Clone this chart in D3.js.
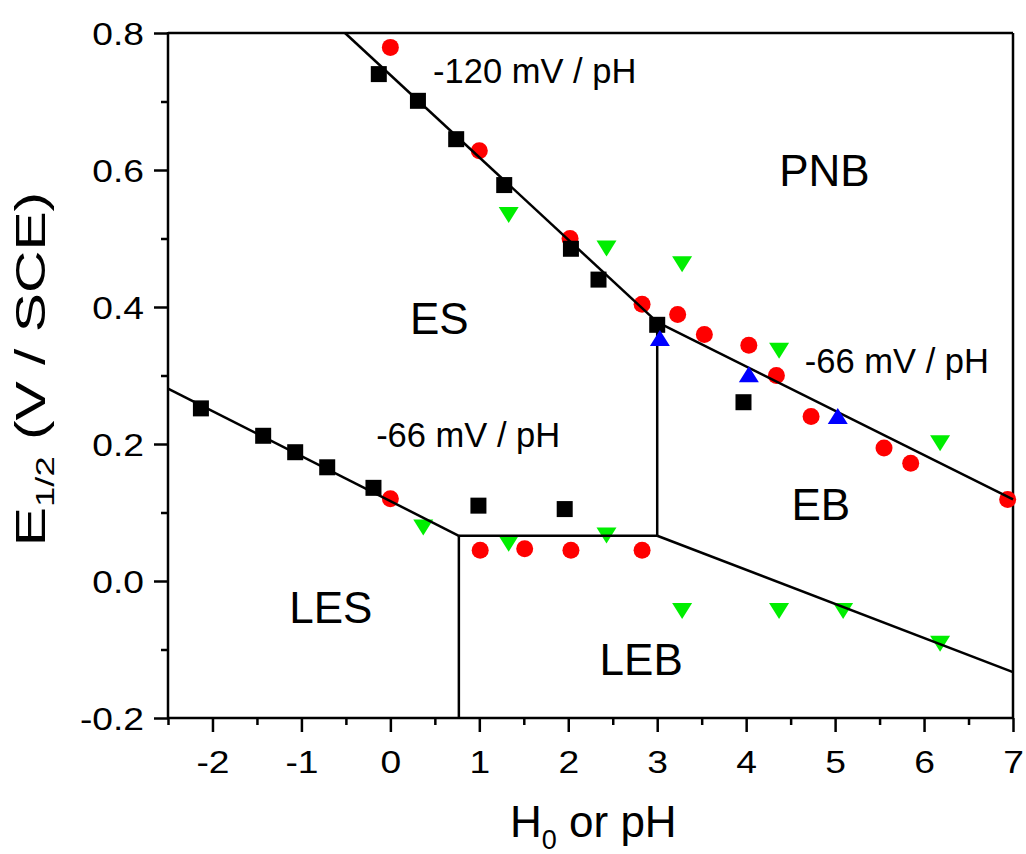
<!DOCTYPE html>
<html>
<head>
<meta charset="utf-8">
<script src="https://cdn.jsdelivr.net/npm/d3@7"></script>
<style>
  html, body { margin: 0; padding: 0; background: #fff; }
  svg { display: block; font-family: "Liberation Sans", Arial, sans-serif; }
</style>
</head>
<body>
<svg id="chart" width="1026" height="854"></svg>
<script>
// ---- data ----
const blackSquares = [
  [-0.13, 0.740], [0.31, 0.701], [0.74, 0.645], [1.28, 0.578], [2.03, 0.485],
  [2.34, 0.440], [3.00, 0.374], [3.97, 0.261],
  [-2.13, 0.252], [-1.43, 0.212], [-1.07, 0.188], [-0.71, 0.166], [-0.19, 0.136],
  [0.99, 0.110], [1.96, 0.105]
];
const redCircles = [
  [0.0, 0.779], [1.0, 0.628], [2.02, 0.500], [2.83, 0.404], [3.23, 0.389],
  [3.53, 0.360], [4.03, 0.344], [4.34, 0.300], [4.73, 0.240], [5.55, 0.194],
  [5.85, 0.172], [6.94, 0.119],
  [0.0, 0.120], [1.01, 0.045], [1.51, 0.047], [2.03, 0.045], [2.83, 0.045]
];
const greenDown = [
  [1.33, 0.535], [2.43, 0.486], [3.28, 0.463], [4.37, 0.337], [6.18, 0.202],
  [0.37, 0.079], [1.33, 0.055], [2.43, 0.067],
  [3.28, -0.043], [4.37, -0.043], [5.09, -0.043], [6.18, -0.091]
];
const blueUp = [
  [3.03, 0.354], [4.03, 0.301], [5.03, 0.240]
];
// boundary lines of the diagram
const boundaryLines = [
  [[-0.51, 0.8], [3.0, 0.378]],
  [[3.0, 0.378], [7.0, 0.119]],
  [[-2.5, 0.281], [0.77, 0.066]],
  [[0.77, 0.066], [3.0, 0.066]],
  [[3.0, 0.066], [7.0, -0.133]],
  [[0.77, 0.066], [0.77, -0.2]],
  [[3.0, 0.066], [3.0, 0.378]]
];
const xTicks = [-2, -1, 0, 1, 2, 3, 4, 5, 6, 7];
const xMinorTicks = [-2.5, -1.5, -0.5, 0.5, 1.5, 2.5, 3.5, 4.5, 5.5, 6.5];
const yTicks = [-0.2, 0.0, 0.2, 0.4, 0.6, 0.8];
const yMinorTicks = [-0.1, 0.1, 0.3, 0.5, 0.7];
const regionLabels = [
  {text: "PNB", x: 4.88, y: 0.576},
  {text: "ES", x: 0.55, y: 0.361},
  {text: "EB", x: 4.84, y: 0.089},
  {text: "LES", x: -0.67, y: -0.062},
  {text: "LEB", x: 2.82, y: -0.137}
];
const slopeLabels = [
  {text: "-120 mV / pH", x: 0.48, y: 0.727},
  {text: "-66 mV / pH", x: -0.16, y: 0.196},
  {text: "-66 mV / pH", x: 4.66, y: 0.303}
];

// ---- layout ----
const svg = d3.select("#chart");
const X0 = 168, X1 = 1013, Y0 = 718, Y1 = 33;
const x = d3.scaleLinear().domain([-2.5, 7]).range([X0, X1]);
const y = d3.scaleLinear().domain([-0.2, 0.8]).range([Y0, Y1]);
const fmtY = v => (Math.abs(v) < 1e-9 ? "0.0" : d3.format(".1f")(v).replace("\u2212", "-"));
const fmtX = v => String(v);
const STRETCH = 1.2;
const SW = 2.5;

// frame (top & right)
svg.append("line").attr("x1", X0).attr("x2", X1).attr("y1", Y1).attr("y2", Y1)
  .attr("stroke", "#000").attr("stroke-width", SW);
svg.append("line").attr("x1", X1).attr("x2", X1).attr("y1", Y1).attr("y2", Y0)
  .attr("stroke", "#000").attr("stroke-width", SW);

// bottom axis: minor then major
const gxMinor = svg.append("g").attr("transform", `translate(0,${Y0})`)
  .call(d3.axisBottom(x).tickValues(xMinorTicks).tickSize(7).tickFormat(""));
const gx = svg.append("g").attr("transform", `translate(0,${Y0})`)
  .call(d3.axisBottom(x).tickValues(xTicks).tickSize(14).tickPadding(20).tickFormat(fmtX));
// left axis
const gyMinor = svg.append("g").attr("transform", `translate(${X0},0)`)
  .call(d3.axisLeft(y).tickValues(yMinorTicks).tickSize(7).tickFormat(""));
const gy = svg.append("g").attr("transform", `translate(${X0},0)`)
  .call(d3.axisLeft(y).tickValues(yTicks).tickSize(14).tickPadding(10).tickFormat(fmtY));

[gxMinor, gx, gyMinor, gy].forEach(g => {
  g.select(".domain").remove();
  g.selectAll(".tick line").attr("stroke", "#000").attr("stroke-width", SW);
});
svg.append("line").attr("x1", X0 - 1).attr("x2", X1 + 1).attr("y1", Y0).attr("y2", Y0)
  .attr("stroke", "#000").attr("stroke-width", SW);
svg.append("line").attr("x1", X0).attr("x2", X0).attr("y1", Y1 - 1).attr("y2", Y0 + 1)
  .attr("stroke", "#000").attr("stroke-width", SW);

gx.selectAll(".tick text")
  .attr("font-size", 31).attr("fill", "#000").attr("font-family", "Liberation Sans, Arial, sans-serif")
  .attr("dy", 0).attr("y", 55).attr("transform", `scale(${STRETCH},1)`);
gy.selectAll(".tick text")
  .attr("font-size", 31).attr("fill", "#000").attr("font-family", "Liberation Sans, Arial, sans-serif")
  .attr("dy", "0.36em").attr("x", -24 / STRETCH).attr("transform", `scale(${STRETCH},1)`);

// markers under lines
svg.append("g").selectAll("circle").data(redCircles).join("circle")
  .attr("cx", d => x(d[0])).attr("cy", d => y(d[1])).attr("r", 8.5).attr("fill", "#ff0000");
svg.append("g").selectAll("path").data(greenDown).join("path")
  .attr("transform", d => `translate(${x(d[0])},${y(d[1])})`)
  .attr("d", "M-10,-7.5L10,-7.5L0,8.5Z").attr("fill", "#00ee00");

// boundary lines
const lineGen = d3.line().x(d => x(d[0])).y(d => y(d[1]));
svg.append("g").selectAll("path").data(boundaryLines).join("path")
  .attr("d", lineGen).attr("fill", "none").attr("stroke", "#000").attr("stroke-width", SW);

// markers over lines
svg.append("g").selectAll("rect").data(blackSquares).join("rect")
  .attr("x", d => x(d[0]) - 8).attr("y", d => y(d[1]) - 8)
  .attr("width", 16).attr("height", 16).attr("fill", "#000");
svg.append("g").selectAll("path").data(blueUp).join("path")
  .attr("transform", d => `translate(${x(d[0])},${y(d[1])})`)
  .attr("d", "M-10,7.5L10,7.5L0,-8.5Z").attr("fill", "#0000ff");

// region labels
svg.append("g").selectAll("text").data(regionLabels).join("text")
  .attr("x", d => x(d.x)).attr("y", d => y(d.y)).attr("text-anchor", "middle")
  .attr("font-size", 44).attr("fill", "#000").text(d => d.text);
svg.append("g").selectAll("text").data(slopeLabels).join("text")
  .attr("x", d => x(d.x)).attr("y", d => y(d.y)).attr("text-anchor", "start")
  .attr("font-size", 34.5).attr("fill", "#000").text(d => d.text);

// axis titles
const xt = svg.append("text").attr("x", 510).attr("y", 837).attr("font-size", 44).attr("fill", "#000");
xt.append("tspan").text("H");
xt.append("tspan").attr("font-size", 27).attr("dy", 12).text("0");
xt.append("tspan").attr("dy", -12).text(" or pH");

const yt = svg.append("text")
  .attr("transform", `translate(45,369) rotate(-90) scale(1.4,1)`)
  .attr("text-anchor", "middle").attr("font-size", 42).attr("fill", "#000");
yt.append("tspan").text("E");
yt.append("tspan").attr("font-size", 26).attr("dy", 9).text("1/2");
yt.append("tspan").attr("dy", -9).text(" (V / SCE)");
</script>
</body>
</html>
